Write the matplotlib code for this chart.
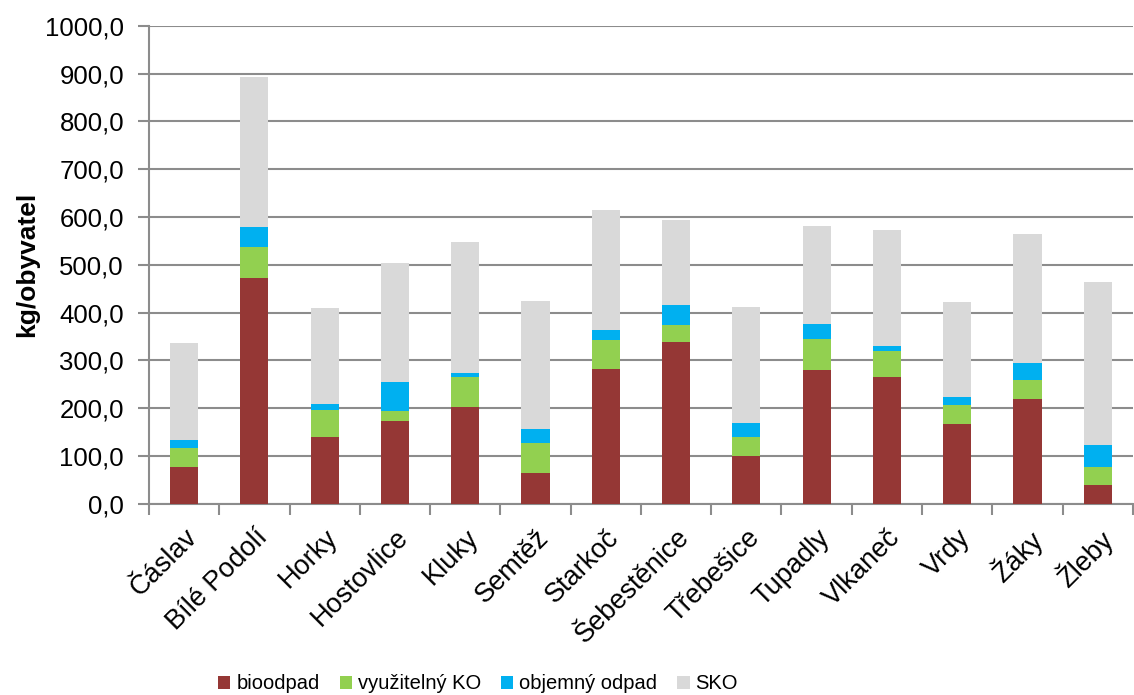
import numpy as np
import matplotlib.pyplot as plt
from matplotlib.ticker import FuncFormatter, FixedLocator

plt.rcParams['font.family'] = ['Liberation Sans', 'DejaVu Sans']

obce = ['Čáslav', 'Bílé Podolí', 'Horky', 'Hostovlice', 'Kluky', 'Semtěž', 'Starkoč',
        'Šebestěnice', 'Třebešice', 'Tupadly', 'Vlkaneč', 'Vrdy', 'Žáky', 'Žleby']

# kg na obyvatele
bioodpad = [76, 472, 139, 173, 202, 63, 282, 338, 100, 280, 266, 166, 218, 38]
vyuzitelny_ko = [41, 66, 56, 21, 64, 64, 60, 35, 39, 64, 54, 41, 41, 38]
objemny_odpad = [16, 42, 14, 61, 7, 29, 22, 42, 30, 32, 10, 17, 36, 47]
sko = [204, 314, 200, 248, 275, 269, 251, 179, 242, 205, 242, 199, 270, 341]

serie = [('bioodpad', bioodpad, '#953735'),
         ('využitelný KO', vyuzitelny_ko, '#92D050'),
         ('objemný odpad', objemny_odpad, '#00B0F0'),
         ('SKO', sko, '#D9D9D9')]

fig = plt.figure(figsize=(11.34, 6.95), dpi=100)
ax = fig.add_axes([0.1314, 0.2755, 0.8676, 0.6871])

x = np.arange(len(obce))
spodek = np.zeros(len(obce))
for nazev, hodnoty, barva in serie:
    ax.bar(x, hodnoty, 0.4, bottom=spodek, color=barva, label=nazev, zorder=3)
    spodek += np.array(hodnoty)

ax.set_ylim(0, 1000)
ax.set_xlim(-0.5, len(obce) - 0.5)
ax.set_yticks(np.arange(0, 1001, 100))
ax.yaxis.set_major_formatter(FuncFormatter(lambda v, p: f'{v:.1f}'.replace('.', ',')))
ax.grid(axis='y', color='#8c8c8c', linewidth=1.5, zorder=0)

ax.set_xticks(x)
ax.set_xticklabels(obce, rotation=45, ha='right', rotation_mode='anchor', fontsize=19.5)
ax.xaxis.set_minor_locator(FixedLocator(np.arange(-0.5, len(obce), 1)))
ax.tick_params(axis='x', which='major', length=0, pad=15)
ax.tick_params(axis='x', which='minor', length=8, width=1.5, color='#8c8c8c')
ax.tick_params(axis='y', length=8, width=1.5, color='#8c8c8c', pad=10, labelsize=18.5)

for s in ['top', 'right']:
    ax.spines[s].set_visible(False)
for s in ['left', 'bottom']:
    ax.spines[s].set_color('#8c8c8c')
    ax.spines[s].set_linewidth(1.5)

ax.set_ylabel('kg/obyvatel', fontsize=19, fontweight='bold', labelpad=4)

fig.legend(loc='center', bbox_to_anchor=(0.4216, 0.016), ncol=4, frameon=False,
           fontsize=14.5, handlelength=0.6, handleheight=0.6, handletextpad=0.3,
           columnspacing=1.0)

fig.savefig('out.png', dpi=100)
